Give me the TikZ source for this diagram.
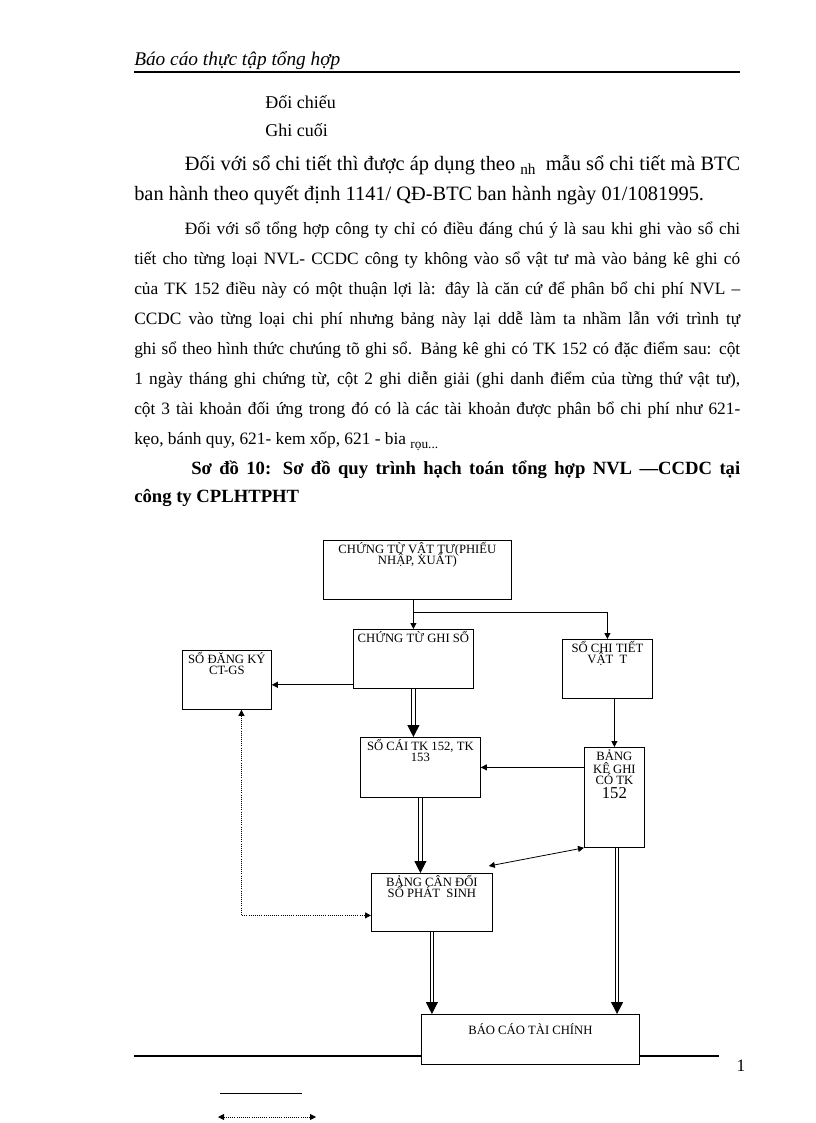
\documentclass[tikz,border=0pt]{standalone}
\usepackage{fontspec}
\setmainfont{Liberation Serif}
\usetikzlibrary{arrows.meta,calc}

\newcommand{\boxfont}{\fontsize{9.5}{8}\selectfont\lineskiplimit=-20pt\lineskip=0pt}
\newcommand{\boxtxt}[3]{\parbox[c][#2][t]{#1}{\centering\boxfont\rule{0pt}{10.1pt}#3}}

\tikzset{
  box/.style={draw, fill=white, line width=0.6pt, inner sep=0pt, anchor=north west},
  arr/.style={line width=0.6pt, -{Triangle[width=4.5pt,length=4.5pt]}},
  arrs/.style={line width=0.6pt, {Triangle[width=4.5pt,length=4.5pt]}-{Triangle[width=4.5pt,length=4.5pt]}},
  dbl/.style={double, double distance=2pt, line width=0.6pt, -{Triangle[width=9pt,length=9pt]}},
  dotarr/.style={densely dotted, line width=0.6pt, {Triangle[width=4.5pt,length=4.5pt]}-{Triangle[width=4.5pt,length=4.5pt]}},
  txt/.style={anchor=base west, inner sep=0pt},
}

\begin{document}
\begin{tikzpicture}[x=0.75pt, y=-0.75pt]
\useasboundingbox (0,0) rectangle (816,1123);

% header
\node[txt] (head) at (134,66) {\fontsize{14.5}{16}\selectfont\itshape Báo cáo thực tập tổng hợp};
\draw[line width=1.5pt] (134,72) -- (740,72);

% text
\node[txt] (doichieu) at (265,109) {\fontsize{13.5}{15}\selectfont Đối chiếu};
\node[txt] (ghicuoi) at (265,137) {\fontsize{13.5}{15}\selectfont Ghi cuối};
\node[txt] (para1) at (134,171) {\parbox[t]{454.5pt}{\fontsize{15.3}{22.5}\selectfont
  \hspace*{38pt}Đối với sổ chi tiết thì được áp dụng theo \raisebox{-3pt}{\fontsize{11.5}{11.5}\selectfont nh}\ \ mẫu sổ chi tiết mà BTC\linebreak
  ban hành theo quyết định 1141/ QĐ-BTC ban hành ngày 01/1081995.}};
\node[txt] (para2) at (134,234) {\parbox[t]{454.5pt}{\fontsize{13}{22.5}\selectfont
  \hspace*{38pt}Đối với sổ tổng hợp công ty chỉ có điều đáng chú ý là sau khi ghi vào sổ chi\linebreak
  tiết cho từng loại NVL- CCDC công ty không vào sổ vật tư mà vào bảng kê ghi có\linebreak
  của TK 152 điều này có một thuận lợi là: đây là căn cứ để phân bổ chi phí NVL –\linebreak
  CCDC vào từng loại chi phí nhưng bảng này lại ddễ làm ta nhầm lẫn với trình tự\linebreak
  ghi sổ theo hình thức chưúng tõ ghi sổ. Bảng kê ghi có TK 152 có đặc điểm sau: cột\linebreak
  1 ngày tháng ghi chứng từ, cột 2 ghi diễn giải (ghi danh điểm của từng thứ vật tư),\linebreak
  cột 3 tài khoản đối ứng trong đó có là các tài khoản được phân bổ chi phí như 621-\linebreak
  kẹo, bánh quy, 621- kem xốp, 621 - bia \raisebox{-3pt}{\fontsize{10}{10}\selectfont rọu...}}};
\node[txt] (title) at (134,474) {\parbox[t]{454.5pt}{\fontsize{14}{21}\selectfont\bfseries
  \hspace*{42.75pt}Sơ đồ 10: Sơ đồ quy trình hạch toán tổng hợp NVL —CCDC tại\linebreak
  công ty CPLHTPHT}};

% footer line
\draw[line width=1.5pt] (134,1056) -- (719,1056);
\node[anchor=base] (pageno) at (741,1071) {\fontsize{13}{15}\selectfont 1};

% boxes
\node[box] (ctvt) at (323,540) {\boxtxt{141pt}{44.25pt}{CHỨNG TỪ VẬT TƯ(PHIẾU\\NHẬP, XUẤT)}};
\node[box] (ctgs) at (353,629) {\boxtxt{90pt}{44.25pt}{CHỨNG TỪ GHI SỔ}};
\node[box] (sct) at (562,639) {\boxtxt{67.5pt}{44.25pt}{SỔ CHI TIẾT\\VẬT\ \ T}};
\node[box] (sdk) at (182,650) {\boxtxt{66.75pt}{44.25pt}{SỔ ĐĂNG KÝ\\CT-GS}};
\node[box] (scai) at (360,737) {\boxtxt{90pt}{45pt}{SỔ CÁI TK 152, TK\\153}};
\node[box] (bkgc) at (584,747) {\boxtxt{45pt}{75pt}{BẢNG\\[1.5pt]KÊ GHI\\CÓ TK\\[2.5pt]{\fontsize{12.5}{12.5}\selectfont 152}}};
\node[box] (bcd) at (371,873) {\boxtxt{90.75pt}{43.5pt}{BẢNG CÂN ĐỐI\\SỔ PHÁT\ \ SINH}};
\node[box] (bctc) at (421,1014) {\boxtxt{163.5pt}{37.5pt}{\rule{0pt}{15pt}BÁO CÁO TÀI CHÍNH}};

% connectors
\coordinate (fork) at (413,612);
\coordinate (gsout) at ([yshift=3pt]ctgs.south west);
\draw[arr] (ctgs.north |- ctvt.south) -- (ctgs.north);
\draw[arr] (fork) -| (sct.north);
\draw[arr] (gsout) -- (gsout -| sdk.east);
\draw[arr] (bkgc.north |- sct.south) -- (bkgc.north);
\draw[arr] (scai.east -| bkgc.west) -- (scai.east);
\draw[dbl, line width=0.9pt] (ctgs.south) -- (ctgs.south |- scai.north);
\draw[dbl] (scai.south) -- (scai.south |- bcd.north);
\draw[dbl] (bcd.south) -- (bcd.south |- bctc.north);
\draw[dbl] ([xshift=2pt]bkgc.south) -- ([xshift=2pt]bkgc.south |- bctc.north);
\draw[arrs] ([shift={(-3pt,5.25pt)}]bcd.north east) -- (bkgc.south west);
\draw[dotarr] ([xshift=10.9pt]sdk.south) |- ([yshift=-9.75pt]bcd.west);

% legend
\coordinate (solidL) at (220,1093);
\coordinate (solidR) at (302,1093);
\draw[line width=0.6pt] (solidL) -- (solidR);
\coordinate (dotL) at (218,1117);
\coordinate (dotR) at (316,1117);
\draw[dotarr] (dotL) -- (dotR);

\end{tikzpicture}
\end{document}
